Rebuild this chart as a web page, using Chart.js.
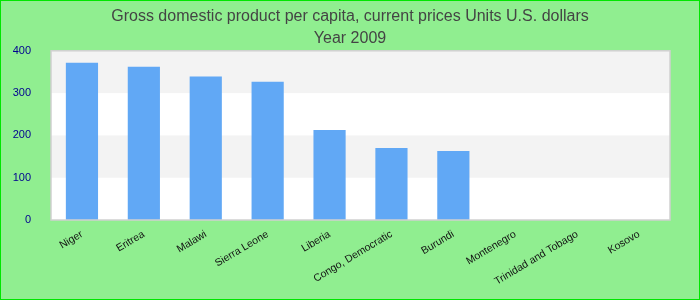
<!DOCTYPE html>
<html lang="en">
<head>
    <meta charset="UTF-8">
    <title>GDP per capita 2009</title>
    <script src="https://cdn.jsdelivr.net/npm/chart.js"></script>
    <style>
        html, body { margin: 0; padding: 0; background: #90ee90; }
        .chart-box { width: 700px; height: 300px; }
    </style>
</head>
<body>
    <div class="chart-box">
        <canvas id="gdpChart"></canvas>
    </div>

    <script>
        const countries = ['Niger', 'Eritrea', 'Malawi', 'Sierra Leone', 'Liberia',
            'Congo, Democratic', 'Burundi', 'Montenegro', 'Trinidad and Tobago', 'Kosovo'];
        const gdpValues = [372, 362, 339, 327, 213, 170, 163, null, null, null];
        const yTicks = [0, 100, 200, 300, 400];

        // green page background + thin bright border round the whole picture
        const frame = {
            id: 'frame',
            beforeDraw(chart) {
                const c = chart.ctx;
                c.save();
                c.fillStyle = '#90ee90';
                c.fillRect(0, 0, chart.width, chart.height);
                c.strokeStyle = '#00e600';
                c.lineWidth = 2;
                c.strokeRect(0, 0, chart.width, chart.height);
                c.restore();
            }
        };

        // alternating white / light grey bands inside the plot
        const bands = {
            id: 'bands',
            beforeDatasetsDraw(chart) {
                const c = chart.ctx, a = chart.chartArea, y = chart.scales.y;
                c.save();
                c.fillStyle = '#ffffff';
                c.fillRect(a.left, a.top, a.right - a.left, a.bottom - a.top);
                c.fillStyle = '#f3f3f3';
                for (let i = 0; i < yTicks.length - 1; i++) {
                    if (i % 2 === 1) {
                        const top = y.getPixelForValue(yTicks[i + 1]);
                        const bot = y.getPixelForValue(yTicks[i]);
                        c.fillRect(a.left, top, a.right - a.left, bot - top);
                    }
                }
                c.restore();
            },
            afterDatasetsDraw(chart) {
                const c = chart.ctx, a = chart.chartArea;
                c.save();
                c.strokeStyle = '#d0d0d0';
                c.lineWidth = 1.5;
                c.strokeRect(a.left, a.top, a.right - a.left, a.bottom - a.top);
                c.restore();
            }
        };

        Chart.defaults.font.family = '"Liberation Sans", Arial, sans-serif';

        new Chart(document.getElementById('gdpChart'), {
            type: 'bar',
            data: {
                labels: countries,
                datasets: [{
                    label: 'GDP per capita',
                    data: gdpValues,
                    backgroundColor: 'rgb(97, 168, 245)',
                    barPercentage: 0.52,
                    categoryPercentage: 1.0
                }]
            },
            options: {
                responsive: true,
                maintainAspectRatio: false,
                animation: false,
                layout: { padding: 0 },
                plugins: {
                    legend: { display: false },
                    tooltip: { enabled: false },
                    title: {
                        display: true,
                        text: ['Gross domestic product per capita, current prices Units U.S. dollars', 'Year 2009'],
                        color: '#444',
                        font: { size: 16, weight: 'normal', lineHeight: 1.4 },
                        padding: { top: 5, bottom: 1 }
                    }
                },
                scales: {
                    x: {
                        grid: { display: false },
                        border: { display: false },
                        ticks: {
                            color: '#111',
                            font: { size: 10.5 },
                            minRotation: 31,
                            maxRotation: 31,
                            autoSkip: false,
                            padding: 0
                        },
                        afterFit(scale) { scale.height = 80; }
                    },
                    y: {
                        min: 0,
                        max: 400,
                        grid: { display: false },
                        border: { display: false },
                        afterBuildTicks(scale) { scale.ticks = yTicks.map(v => ({ value: v })); },
                        ticks: {
                            color: '#000090',
                            font: { size: 11 },
                            padding: 12
                        },
                        afterFit(scale) { scale.width = 51; }
                    },
                    // empty right-hand axis, only keeps the right margin
                    // so the title stays centred on the whole picture
                    yRight: {
                        position: 'right',
                        display: true,
                        grid: { display: false },
                        border: { display: false },
                        ticks: { display: false },
                        afterFit(scale) { scale.width = 30; }
                    }
                }
            },
            plugins: [frame, bands]
        });
    </script>
</body>
</html>
